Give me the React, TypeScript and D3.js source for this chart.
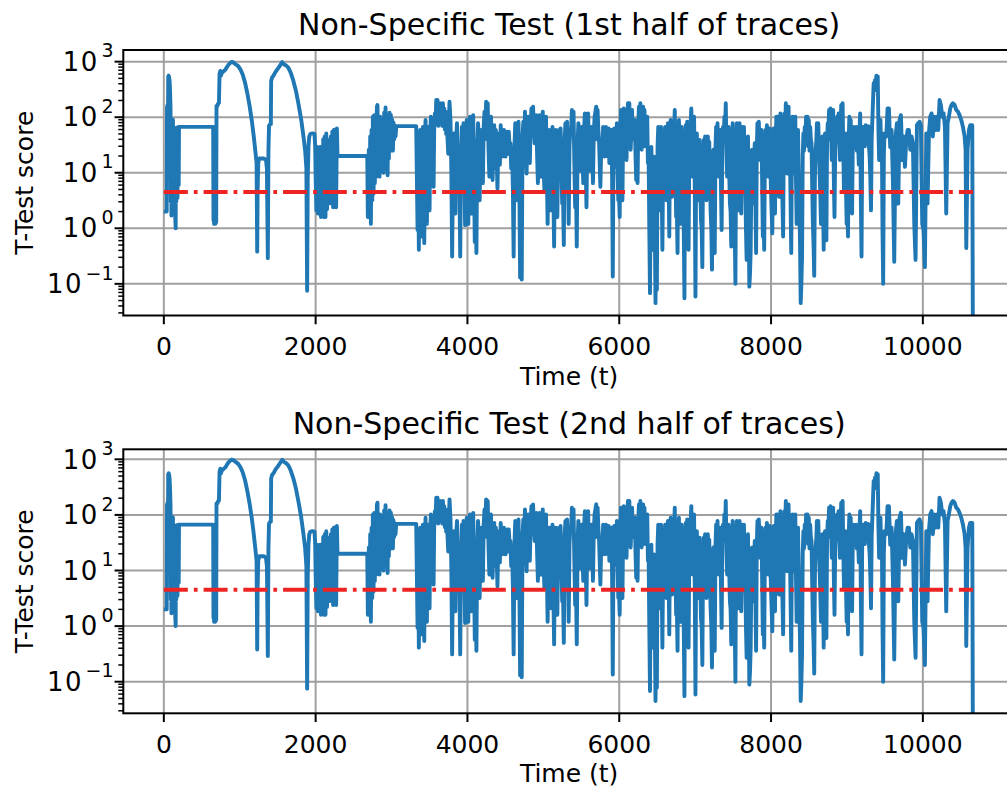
import React from 'react';
import * as d3 from 'd3';

// ---------- data ----------
const xTicks = [0, 2000, 4000, 6000, 8000, 10000];
const yExponents = [-1, 0, 1, 2, 3];
const threshold = 4.5;
const thresholdStart = 0;
const thresholdEnd = 10660;
const titles = ['Non-Specific Test (1st half of traces)', 'Non-Specific Test (2nd half of traces)'];

// early part of the trace: [time, score]
const earlyTrace: [number, number][] = [
  [0, 2.0], [38, 2.0], [42, 150], [48, 165], [52, 20], [58, 540], [64, 560], [70, 520], [76, 450], [82, 300],
  [88, 150], [92, 3.0], [96, 75], [100, 1.7], [104, 60], [108, 2.6], [112, 65], [116, 1.9], [120, 90], [124, 3.2],
  [128, 60], [132, 2.2], [136, 65], [140, 4.5], [144, 60], [150, 1.6], [156, 1.0], [160, 40], [164, 3.0], [168, 65],
  [172, 5.5], [176, 65], [180, 3.5], [184, 65], [188, 8], [192, 67], [196, 6], [200, 67], [206, 67], [650, 67],
  [654, 1.4], [658, 45], [662, 1.2], [666, 60], [670, 1.3], [674, 67], [678, 1.2], [690, 1.3], [694, 160], [706, 160],
  [714, 175], [726, 180], [734, 600], [744, 680], [752, 560], [762, 620], [776, 650], [792, 680], [812, 720], [832, 800],
  [852, 880], [875, 950], [895, 990], [915, 970], [945, 900], [980, 830], [1010, 720], [1040, 580], [1070, 420], [1100, 270],
  [1130, 160], [1160, 85], [1185, 45], [1205, 25], [1222, 15], [1230, 0.38], [1236, 5], [1244, 15], [1256, 18], [1280, 18],
  [1320, 18], [1345, 17], [1358, 12], [1370, 0.29], [1378, 25], [1386, 70], [1400, 75], [1410, 75], [1414, 450], [1426, 520],
  [1445, 560], [1470, 650], [1500, 740], [1530, 850], [1560, 980], [1585, 890], [1612, 850], [1640, 780], [1670, 640], [1705, 460],
  [1740, 300], [1775, 170], [1810, 90], [1840, 45], [1862, 25], [1878, 12], [1888, 0.075], [1896, 8], [1906, 30], [1916, 45],
  [1930, 50], [1960, 51], [1985, 50], [1994, 30],
  [2000, 8.5], [2010, 2.1], [2020, 29], [2030, 1.85], [2040, 26], [2050, 3.7], [2060, 29], [2070, 1.6], [2080, 26], [2090, 1.85],
  [2100, 40], [2110, 1.6], [2120, 45], [2130, 1.6], [2140, 51], [2150, 2.2], [2160, 39], [2170, 2.8], [2180, 30], [2190, 4],
  [2200, 45], [2210, 2.8], [2220, 55], [2230, 2.4], [2240, 59], [2250, 2.6], [2260, 60], [2270, 2.4], [2280, 63], [2288, 20],
  [2680, 20], [2688, 1.6], [2701, 26], [2710, 2.1], [2719, 45], [2728, 1.2], [2737, 59], [2746, 3.2], [2754, 102], [2763, 4.2],
  [2772, 109], [2780, 6.5], [2789, 109], [2798, 8.5], [2807, 155], [2815, 166], [2824, 15], [2833, 59], [2842, 8.5], [2850, 102],
  [2859, 17], [2868, 67], [2877, 12.8], [2886, 90], [2894, 10], [2903, 120], [2912, 20], [2921, 150], [2930, 12], [2939, 80],
  [2948, 9], [2956, 100], [2965, 18], [2974, 120], [2983, 25], [2991, 110], [3000, 30], [3009, 90], [3018, 25], [3026, 80],
  [3035, 40], [3044, 70], [3053, 45], [3062, 69], [3325, 69],
  [3343, 0.93], [3351, 20], [3360, 0.41], [3369, 30], [3378, 59], [3386, 8], [3395, 0.71], [3404, 25], [3413, 67], [3422, 6],
  [3431, 0.54], [3440, 40], [3448, 89], [3457, 10], [3466, 1.2], [3475, 30], [3483, 67], [3492, 12], [3501, 2.1], [3510, 50],
  [3518, 102], [3527, 40], [3536, 89], [3545, 20], [3554, 5.6], [3562, 60], [3571, 117], [3580, 80], [3589, 204], [3597, 90],
  [3606, 204], [3615, 70], [3624, 144], [3632, 80], [3641, 178], [3650, 90], [3659, 155], [3668, 70], [3677, 178], [3686, 80],
  [3694, 144], [3703, 60], [3712, 126], [3720, 50], [3729, 89], [3738, 40], [3747, 22], [3755, 80], [3764, 190],
];

// dense middle part, sampled evenly between start and end time
const denseAStart = 3777;
const denseAEnd = 5675;
const denseA = [
  83, 12, 0.31, 9, 51, 8, 1.85, 40, 78, 14, 4.9, 6, 0.31, 20, 67, 10, 78, 22, 1.14, 30, 89, 25, 1.2, 50, 102, 18, 1.85, 60, 109, 9,
  0.57, 5, 0.36, 30, 78, 40, 3.2, 25, 59, 15, 6.5, 70, 126, 60, 190, 40, 178, 25, 8.5, 45, 102, 30, 7.4, 50, 72, 12, 59, 20, 5.2, 28,
  51, 14, 72, 35, 19.5, 45, 59, 25, 19.5, 40, 55, 22, 55, 30, 34, 12, 26, 6, 0.31, 30, 78, 16, 3.2, 40, 83, 8, 0.13, 3, 0.12, 45,
  83, 35, 126, 20, 9.7, 55, 102, 40, 15, 70, 144, 50, 155, 60, 34, 70, 109, 20, 6.5, 50, 109, 30, 8.5, 60, 126, 14, 4.9, 45, 102, 10,
  1.2, 25, 59, 12, 2.1, 35, 67, 5, 0.47, 22, 59, 10, 1.6, 30, 59, 20, 63, 12, 2.8, 4, 0.5, 40, 78, 30, 83, 15, 1.2, 30, 59, 60,
  135, 50, 126, 15, 2.4, 6, 0.47, 35, 78, 40, 11, 35, 67, 20, 6.5, 60, 117, 14, 2.4, 45, 117, 30, 11, 40, 67, 25, 6.5, 50, 102,
];
const denseBStart = 5697;
const denseBEnd = 7585;
const denseB = [
  155, 40, 135, 60, 39, 15, 5.6, 20, 34, 25, 67, 30, 19.5, 45, 67, 20, 22, 40, 63, 15, 34, 50, 59, 8, 0.135, 20, 63, 30, 12.8, 40,
  78, 10, 3.2, 4, 1.6, 60, 135, 15, 3.2, 50, 144, 40, 102, 30, 17, 90, 178, 60, 178, 45, 26, 70, 135, 40, 51, 60, 89, 20, 7.4, 9,
  6.5, 80, 155, 60, 178, 40, 26, 70, 155, 60, 135, 30, 51, 60, 102, 15, 22, 1, 0.068, 8, 29, 3, 0.41, 12, 19.5, 1, 0.045, 0.5, 0.078, 30,
  67, 12, 2.1, 30, 67, 6, 0.41, 12, 26, 40, 67, 12, 3.2, 35, 78, 10, 0.71, 40, 89, 15, 3.7, 40, 83, 60, 135, 10, 1.6, 2, 0.36, 40,
  89, 9, 1.2, 30, 67, 15, 6.5, 1, 0.055, 30, 72, 30, 83, 5, 0.41, 20, 51, 80, 144, 30, 8.5, 45, 102, 5, 0.059, 15, 51, 12, 3.2, 20,
  39, 8, 1.4, 1, 0.2, 15, 39, 25, 45, 10, 3.2, 20, 45, 15, 36, 8, 2.1, 1, 0.18, 8, 26, 4, 0.36, 25, 67, 35, 78, 20, 8.5, 30,
  59, 6, 0.93, 30, 67, 40, 102, 60, 178, 25, 8.5, 30, 67, 10, 2.8, 2, 0.47, 30, 78, 12, 2.1, 1, 0.1, 25, 78, 10, 2.1, 30, 78,
];
const denseCStart = 7607;
const denseCEnd = 9495;
const denseC = [
  1.85, 20, 67, 25, 67, 20, 6.5, 1, 0.27, 15, 45, 2, 0.089, 0.15, 0.41, 8, 26, 10, 2.8, 12, 34, 3, 0.36, 25, 78, 30, 83, 40, 17, 35,
  59, 6, 0.71, 2, 0.41, 20, 59, 30, 72, 20, 8.5, 30, 63, 15, 4.9, 2, 0.81, 25, 63, 10, 1.85, 40, 102, 40, 102, 15, 3.7, 50, 117, 12,
  6.5, 3, 0.71, 45, 117, 60, 178, 30, 9.7, 60, 155, 40, 26, 3, 0.36, 40, 102, 25, 9.7, 50, 102, 8, 1.2, 30, 59, 10, 3.2, 0.5, 0.045, 0.1,
  0.31, 20, 51, 25, 67, 40, 102, 40, 102, 30, 89, 25, 67, 40, 34, 6, 1.2, 0.5, 0.14, 8, 26, 35, 78, 30, 78, 25, 9.7, 4, 1.2, 15,
  45, 4, 0.41, 20, 51, 6, 0.61, 35, 78, 60, 135, 40, 144, 50, 17, 60, 135, 8, 1.6, 25, 51, 40, 102, 50, 117, 45, 17, 80, 166, 60,
  178, 25, 4.9, 25, 51, 5, 1.2, 2, 0.71, 40, 102, 30, 89, 10, 1.85, 30, 67, 40, 29, 45, 67, 25, 51, 30, 14, 60, 117, 3, 0.31, 40,
  67, 40, 67, 30, 72, 40, 67, 45, 69, 30, 19.5, 8, 2.1, 40, 89, 200, 410, 300, 470, 400, 560, 300, 540, 60, 17, 40, 89, 25, 51, 1,
  0.1, 20, 51,
];

// final part of the trace: [time, score]
const lateTrace: [number, number][] = [
  [9518, 45], [9535, 144], [9553, 144], [9570, 29], [9588, 59], [9605, 7.4], [9623, 0.25], [9641, 45], [9658, 78], [9676, 2.8],
  [9693, 89], [9711, 109], [9728, 17], [9746, 45], [9764, 12.8], [9781, 39], [9799, 59], [9816, 59], [9834, 26], [9851, 45],
  [9869, 34], [9887, 1.2], [9904, 0.27], [9922, 72], [9939, 78], [9957, 83], [9974, 72], [9992, 1.2], [10009, 0.93], [10027, 0.2],
  [10045, 51], [10062, 2.8], [10080, 51], [10097, 102], [10115, 117], [10132, 45], [10150, 102], [10168, 59], [10185, 102], [10203, 59],
  [10220, 204], [10238, 166], [10255, 102], [10273, 117], [10291, 67], [10308, 1.85], [10326, 78], [10343, 102], [10361, 144], [10378, 166],
  [10396, 178], [10418, 166], [10440, 135], [10462, 126], [10484, 109], [10506, 89], [10528, 67], [10550, 45], [10563, 26], [10572, 0.44],
  [10589, 26], [10607, 59], [10624, 72], [10651, 72], [10659, 0.01],
];

// ---------- layout ----------
const W = 1007;
const H = 789;
const LEFT = 123.3;
const RIGHT = 1015;
const X_DOMAIN: [number, number] = [-534, 11214];
const panels = [
  { top: 50, bottom: 315.5, yLo: -1.57, yHi: 3.21 },
  { top: 449.3, bottom: 713.3, yLo: -1.568, yHi: 3.18 },
];
const FONT = 'DejaVu Sans, sans-serif';
const BLUE = '#1f77b4';
const RED = '#ee2424';
const GRID = '#a0a0a0';
const TICK_FS = 25;
const TITLE_FS = 30;
const LW = 3.9;

function evenly(start: number, end: number, vals: number[]): [number, number][] {
  const s = d3.scaleLinear().domain([0, vals.length - 1]).range([start, end]);
  return vals.map((v, i) => [s(i), v]);
}

const trace: [number, number][] = [
  ...earlyTrace,
  ...evenly(denseAStart, denseAEnd, denseA),
  ...evenly(denseBStart, denseBEnd, denseB),
  ...evenly(denseCStart, denseCEnd, denseC),
  ...lateTrace,
];

const supMap: Record<string, string> = { '-1': '\u22121', '0': '0', '1': '1', '2': '2', '3': '3' };

function Panel({ idx }: { idx: number }) {
  const p = panels[idx];
  const x = d3.scaleLinear().domain(X_DOMAIN).range([LEFT, RIGHT]);
  const y = d3.scaleLog().domain([Math.pow(10, p.yLo), Math.pow(10, p.yHi)]).range([p.bottom, p.top]);
  const line = d3.line<[number, number]>().x(d => x(d[0])).y(d => y(d[1]));
  const clipId = `clip${idx}`;
  const minor: number[] = [];
  for (let k = -2; k <= 3; k++) {
    for (let m = 2; m <= 9; m++) {
      const v = m * Math.pow(10, k);
      if (v >= Math.pow(10, p.yLo) && v <= Math.pow(10, p.yHi)) minor.push(v);
    }
  }
  const cy = (p.top + p.bottom) / 2;
  const cx = (LEFT + RIGHT) / 2;
  return (
    <g>
      <defs>
        <clipPath id={clipId}>
          <rect x={LEFT} y={p.top} width={RIGHT - LEFT} height={p.bottom - p.top} />
        </clipPath>
      </defs>
      {/* grid */}
      {xTicks.map(t => (
        <line key={'gx' + t} x1={x(t)} x2={x(t)} y1={p.top} y2={p.bottom} stroke={GRID} strokeWidth={2} />
      ))}
      {yExponents.map(e => (
        <line key={'gy' + e} x1={LEFT} x2={RIGHT} y1={y(Math.pow(10, e))} y2={y(Math.pow(10, e))} stroke={GRID} strokeWidth={2} />
      ))}
      {/* data */}
      <g clipPath={`url(#${clipId})`}>
        <path d={line(trace) || ''} fill="none" stroke={BLUE} strokeWidth={LW} strokeLinejoin="round" />
        <line x1={x(thresholdStart)} x2={x(thresholdEnd)} y1={y(threshold)} y2={y(threshold)}
          stroke={RED} strokeWidth={LW} strokeDasharray="24 6 3.75 6" />
      </g>
      {/* spines */}
      <rect x={LEFT} y={p.top} width={RIGHT - LEFT} height={p.bottom - p.top} fill="none" stroke="#000" strokeWidth={2} />
      {/* x ticks */}
      {xTicks.map(t => (
        <g key={'xt' + t}>
          <line x1={x(t)} x2={x(t)} y1={p.bottom} y2={p.bottom + 8.75} stroke="#000" strokeWidth={2} />
          <text x={x(t)} y={p.bottom + 39.5} textAnchor="middle" fontSize={TICK_FS} fontFamily={FONT}>{t}</text>
        </g>
      ))}
      {/* y ticks */}
      {yExponents.map(e => (
        <g key={'yt' + e}>
          <line x1={LEFT - 8.75} x2={LEFT} y1={y(Math.pow(10, e))} y2={y(Math.pow(10, e))} stroke="#000" strokeWidth={2} />
          <text x={113.5} y={y(Math.pow(10, e)) + 9.2} textAnchor="end" fontSize={26} fontFamily={FONT}>
            1<tspan dx={1.5}>0</tspan><tspan dx={4} dy={-13.5} fontSize={19}>{supMap[String(e)]}</tspan>
          </text>
        </g>
      ))}
      {minor.map(v => (
        <line key={'ym' + v} x1={LEFT - 5} x2={LEFT} y1={y(v)} y2={y(v)} stroke="#000" strokeWidth={1.5} />
      ))}
      {/* labels */}
      <text x={cx} y={p.top - 15} textAnchor="middle" fontSize={TITLE_FS} fontFamily={FONT}>{titles[idx]}</text>
      <text x={cx} y={p.bottom + 69} textAnchor="middle" fontSize={TICK_FS} fontFamily={FONT}>Time (t)</text>
      <text transform={`translate(32.5,${cy}) rotate(-90)`} textAnchor="middle" fontSize={TICK_FS} fontFamily={FONT}>T-Test score</text>
    </g>
  );
}

export default function App() {
  return (
    <svg width={W} height={H} style={{ position: 'absolute', left: 0, top: 0, background: '#fff' }}>
      <rect x={0} y={0} width={W} height={H} fill="#fff" />
      <Panel idx={0} />
      <Panel idx={1} />
    </svg>
  );
}
